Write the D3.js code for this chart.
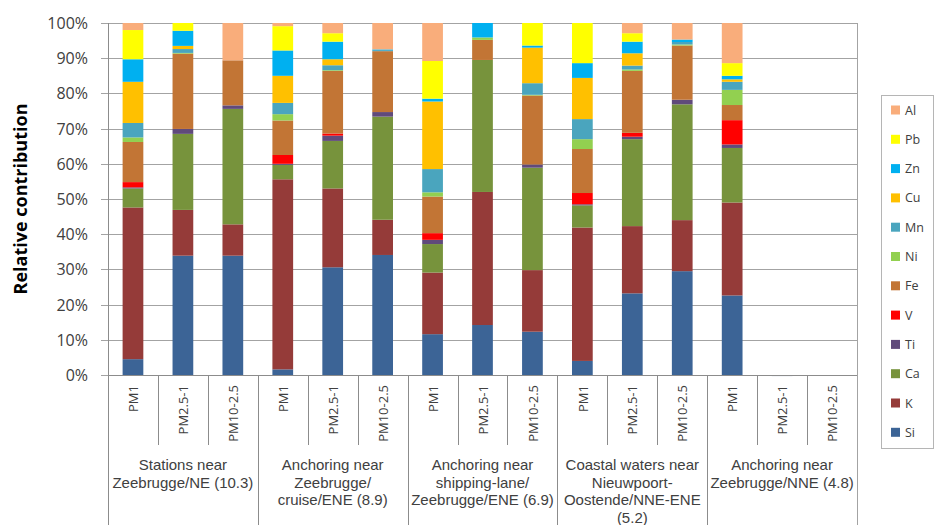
<!DOCTYPE html>
<html>
<head>
<meta charset="utf-8">
<script src="https://cdn.jsdelivr.net/npm/d3@7/dist/d3.min.js"></script>
<style>
  html, body { margin: 0; padding: 0; background: #fff; }
  svg { display: block; }
  text { font-family: "Open Sans", "Liberation Sans", sans-serif; }
  text.grp { font-family: "Liberation Sans", Arial, sans-serif; }
</style>
</head>
<body>
<svg id="chart" width="935" height="525"></svg>
<script>
// ---------------- DATA ----------------
const categories = ["PM1","PM2.5-1","PM10-2.5","PM1","PM2.5-1","PM10-2.5","PM1","PM2.5-1","PM10-2.5","PM1","PM2.5-1","PM10-2.5","PM1","PM2.5-1","PM10-2.5"];
const groupLabels = [
  ["Stations near","Zeebrugge/NE (10.3)"],
  ["Anchoring near","Zeebrugge/","cruise/ENE (8.9)"],
  ["Anchoring near","shipping-lane/","Zeebrugge/ENE (6.9)"],
  ["Coastal waters near","Nieuwpoort-","Oostende/NNE-ENE","(5.2)"],
  ["Anchoring near","Zeebrugge/NNE (4.8)"]
];
const elements = ["Si","K","Ca","Ti","V","Fe","Ni","Mn","Cu","Zn","Pb","Al"];
const Si = [4.5, 33.9, 33.9, 1.6, 30.6, 34.1, 11.6, 14.2, 12.3, 4.0, 23.2, 29.5, 22.6, -0.3, 0];
const K  = [43.1, 13.0, 8.9, 54.0, 22.4, 10.0, 17.5, 37.8, 17.5, 37.9, 19.1, 14.5, 26.4, 0, 0];
const Ca = [5.4, 21.6, 32.8, 4.1, 13.5, 29.3, 8.1, 37.5, 29.1, 6.3, 24.7, 32.9, 15.5, 0, 0];
const Ti = [0.3, 1.4, 1.0, 0.3, 1.5, 1.3, 1.2, 0, 0.9, 0.3, 0.7, 1.3, 1.0, 0, 0];
const V  = [1.5, 0, 0, 2.5, 0.6, 0, 1.9, 0, 0, 3.2, 1.1, 0, 6.9, 0, 0];
const Fe = [11.4, 21.4, 12.8, 9.8, 17.8, 17.3, 10.4, 5.7, 19.6, 12.5, 17.6, 15.4, 4.3, 0, 0];
const Ni = [1.3, 0.2, 0, 1.8, 0.2, 0, 1.2, 0.7, 0.2, 2.8, 0.4, 0.3, 4.3, 0, 0];
const Mn = [4.1, 1.1, 0, 3.2, 1.4, 0.3, 6.6, 0, 3.3, 5.7, 1.1, 0.7, 2.3, 0, 0];
const Cu = [11.7, 0.9, 0, 7.7, 1.7, 0, 19.2, 0, 10.1, 11.7, 3.5, 0, 0.7, 0, 0];
const Zn = [6.4, 4.3, 0, 7.2, 5.0, 0.2, 0.8, 4.1, 0.6, 4.2, 3.3, 0.7, 1.0, 0, 0];
const Pb = [8.3, 2.2, 0, 6.9, 2.4, 0, 10.7, 0, 6.4, 11.4, 2.4, 0, 3.6, 0, 0];
const Al = [2.0, 0, 10.6, 0.9, 2.9, 7.5, 10.8, 0, 0, 0, 2.9, 4.7, 11.4, 0, 0];
const yTicks = [0,10,20,30,40,50,60,70,80,90,100];
const colors = {Si:"#3C6496", K:"#953B39", Ca:"#77933C", Ti:"#604A7B", V:"#FF0000", Fe:"#C27535",
                Ni:"#92D050", Mn:"#4AA5BE", Cu:"#FFC000", Zn:"#00B0F0", Pb:"#FFFF00", Al:"#F9AD7B"};

// ---------------- BUILD ----------------
const seriesVals = {Si, K, Ca, Ti, V, Fe, Ni, Mn, Cu, Zn, Pb, Al};
const rows = categories.map((c, i) => {
  const r = {idx: i};
  elements.forEach(e => r[e] = seriesVals[e][i]);
  return r;
});

const svg = d3.select("#chart");
const L = 108, R = 857, T = 23, B = 375;
const gridColor = "#a3a3a3", axisColor = "#8c8c8c";

const x = d3.scaleBand().domain(d3.range(categories.length)).range([L, R])
  .paddingInner(0.585).paddingOuter(0.2925);
const step = x.step();
const y = d3.scaleLinear().domain([0, 100]).range([B, T]);

// gridlines
svg.append("g").selectAll("line").data(yTicks).join("line")
  .attr("x1", L - 7).attr("x2", R)
  .attr("y1", d => Math.round(y(d)) + 0.5).attr("y2", d => Math.round(y(d)) + 0.5)
  .attr("stroke", gridColor).attr("stroke-width", 1);

// y tick labels
svg.append("g").selectAll("text").data(yTicks).join("text")
  .attr("x", 88).attr("y", d => y(d) + 6)
  .attr("text-anchor", "end").attr("font-size", 16).attr("fill", "#404040")
  .text(d => d + "%");

// y title
svg.append("text")
  .attr("transform", `translate(27,${(T + B) / 2}) rotate(-90)`)
  .attr("text-anchor", "middle").attr("font-size", 18).attr("font-weight", "bold")
  .attr("fill", "#000").text("Relative contribution");

// stacked bars
const stack = d3.stack().keys(elements).offset(d3.stackOffsetDiverging);
const stacked = stack(rows);
svg.append("g").selectAll("g").data(stacked).join("g")
  .attr("fill", s => colors[s.key])
  .selectAll("rect").data(s => s).join("rect")
  .attr("x", d => x(d.data.idx))
  .attr("width", x.bandwidth())
  .attr("y", d => y(Math.max(d[0], d[1])))
  .attr("height", d => Math.abs(y(d[0]) - y(d[1])));

// axes lines
svg.append("line").attr("x1", L + 0.5).attr("x2", L + 0.5).attr("y1", T).attr("y2", 525)
  .attr("stroke", axisColor);
svg.append("line").attr("x1", R + 0.5).attr("x2", R + 0.5).attr("y1", T).attr("y2", 525)
  .attr("stroke", gridColor);
svg.append("line").attr("x1", L).attr("x2", R).attr("y1", Math.round(B) + 0.5).attr("y2", Math.round(B) + 0.5)
  .attr("stroke", axisColor);

// category separators
const seps = d3.range(1, categories.length);
svg.append("g").selectAll("line").data(seps).join("line")
  .attr("x1", i => Math.round(L + i * step) + 0.5).attr("x2", i => Math.round(L + i * step) + 0.5)
  .attr("y1", B).attr("y2", i => (i % 3 === 0) ? 525 : 445)
  .attr("stroke", axisColor);

// category tick labels
svg.append("g").selectAll("text").data(categories).join("text")
  .attr("transform", (d, i) => `translate(${x(i) + x.bandwidth() / 2 + 0.5},385) rotate(-90)`)
  .attr("text-anchor", "end").attr("dy", "0.36em")
  .attr("font-size", 13).attr("fill", "#404040")
  .text(d => d);

// group labels
const groupG = svg.append("g");
groupLabels.forEach((lines, g) => {
  const cx = L + step * 3 * (g + 0.5);
  lines.forEach((ln, k) => {
    groupG.append("text").attr("class", "grp").attr("x", cx).attr("y", 470 + k * 17.5)
      .attr("text-anchor", "middle").attr("font-size", 15).attr("fill", "#404040")
      .text(ln);
  });
});

// legend
const legend = svg.append("g");
legend.append("rect").attr("x", 881.5).attr("y", 95.5).attr("width", 52).attr("height", 353)
  .attr("fill", "#fff").attr("stroke", "#b5b5b5");
const legItems = elements.slice().reverse();
legItems.forEach((e, k) => {
  const cy = 110 + k * 29.3;
  legend.append("rect").attr("x", 891).attr("y", cy - 4.5).attr("width", 9).attr("height", 9)
    .attr("fill", colors[e]);
  legend.append("text").attr("x", 905).attr("y", cy + 4.5)
    .attr("font-size", 12.5).attr("fill", "#404040").text(e);
});
</script>
</body>
</html>
